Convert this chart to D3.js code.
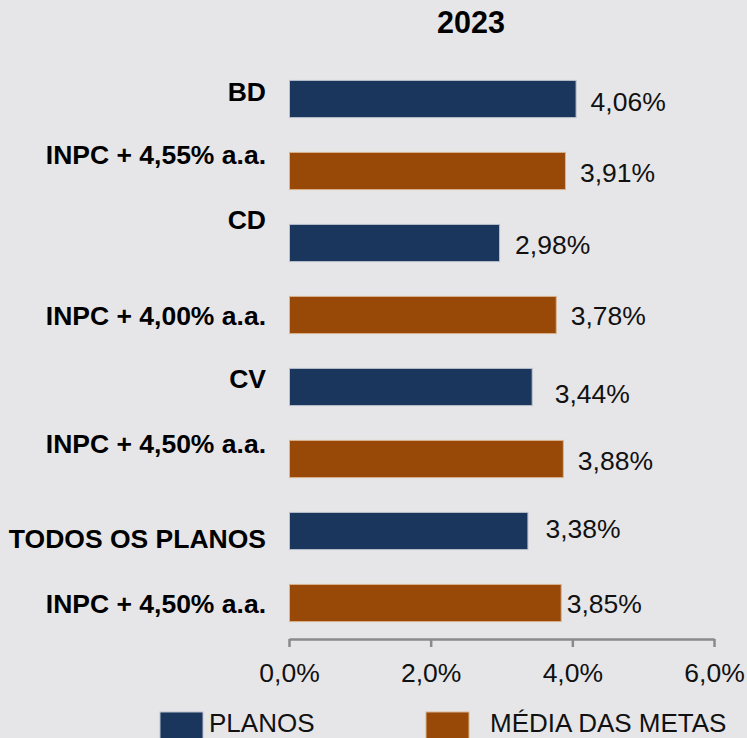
<!DOCTYPE html>
<html><head><meta charset="utf-8">
<script src="https://cdn.jsdelivr.net/npm/d3@7"></script>
<style>
html,body{margin:0;padding:0;background:#e6e6e8;}
svg{display:block;font-family:"Liberation Sans",Arial,sans-serif;}
</style></head>
<body><svg id="chart" width="747" height="738"></svg>
<script>
const title = "2023";
const categories = ["BD","INPC + 4,55% a.a.","CD","INPC + 4,00% a.a.","CV","INPC + 4,50% a.a.","TODOS OS PLANOS","INPC + 4,50% a.a."];
const series = ["PLANOS","MÉDIA DAS METAS","PLANOS","MÉDIA DAS METAS","PLANOS","MÉDIA DAS METAS","PLANOS","MÉDIA DAS METAS"];
const values = [4.06, 3.91, 2.98, 3.78, 3.44, 3.88, 3.38, 3.85];
const valueLabels = ["4,06%","3,91%","2,98%","3,78%","3,44%","3,88%","3,38%","3,85%"];
const xTicks = [0, 2, 4, 6];
const xTickLabels = ["0,0%","2,0%","4,0%","6,0%"];
const legendNames = ["PLANOS","MÉDIA DAS METAS"];

// layout nudges (category label / value label offsets)
const catDy = [-7.5, -16, -23.5, 1, -8, -15.5, 8, 0.5];
const valDy = [2.5, 2, 1.5, 1, 7, 1.5, -2, 0.5];
const valDx = [0, 0, 1, 0, 8, 0, 3, -9];

const colors = {"PLANOS":"#1b365d","MÉDIA DAS METAS":"#984807"};
const strokes = {"PLANOS":"#b9c0cc","MÉDIA DAS METAS":"#d9b48f"};

const svg = d3.select("#chart");
svg.append("rect").attr("width",747).attr("height",738).attr("fill","#e6e6e8");

const x = d3.scaleLinear().domain([0,6]).range([289,714]);
const idx = d3.range(categories.length);
const y = d3.scaleBand().domain(idx).range([63,639]).paddingInner(0.47).paddingOuter(0.235);

svg.append("text").attr("x",471).attr("y",33).attr("text-anchor","middle")
  .attr("font-size",30.5).attr("font-weight","bold").attr("fill","#000").text(title);

svg.selectAll("rect.bar").data(idx).join("rect").attr("class","bar")
  .attr("x",x(0)+0.5).attr("y",i=>y(i)+0.5)
  .attr("width",i=>x(values[i])-x(0)-1).attr("height",y.bandwidth()-1)
  .attr("fill",i=>colors[series[i]]).attr("stroke",i=>strokes[series[i]]).attr("stroke-width",1);

svg.selectAll("text.cat").data(idx).join("text").attr("class","cat")
  .attr("x",266).attr("y",i=>y(i)+y.bandwidth()/2+9+catDy[i])
  .attr("text-anchor","end").attr("font-size",26.5).attr("font-weight","bold").attr("fill","#000")
  .text(i=>categories[i]);

svg.selectAll("text.val").data(idx).join("text").attr("class","val")
  .attr("x",i=>x(values[i])+14+valDx[i]).attr("y",i=>y(i)+y.bandwidth()/2+9+valDy[i])
  .attr("font-size",26.5).attr("fill","#111")
  .text(i=>valueLabels[i]);

const axis = d3.axisBottom(x).tickValues(xTicks).tickFormat((d,i)=>xTickLabels[i]).tickSize(8).tickSizeOuter(0).tickPadding(16);
const ax = svg.append("g").attr("transform","translate(0,639)").call(axis);
ax.select(".domain").attr("stroke","#8a8a8a").attr("stroke-width",2.5);
ax.selectAll(".tick line").attr("stroke","#8a8a8a").attr("stroke-width",2.5);
ax.selectAll(".tick text").attr("font-size",26.5).attr("fill","#111").attr("font-family","Liberation Sans, Arial, sans-serif");

const leg = [{x:160, tx:209},{x:426, tx:490}];
legendNames.forEach((n,i)=>{
  svg.append("rect").attr("x",leg[i].x).attr("y",712).attr("width",43).attr("height",40)
    .attr("fill",colors[n]).attr("stroke",strokes[n]).attr("stroke-width",1);
  svg.append("text").attr("x",leg[i].tx).attr("y",732).attr("font-size",26).attr("fill","#111").text(n);
});
</script></body></html>
